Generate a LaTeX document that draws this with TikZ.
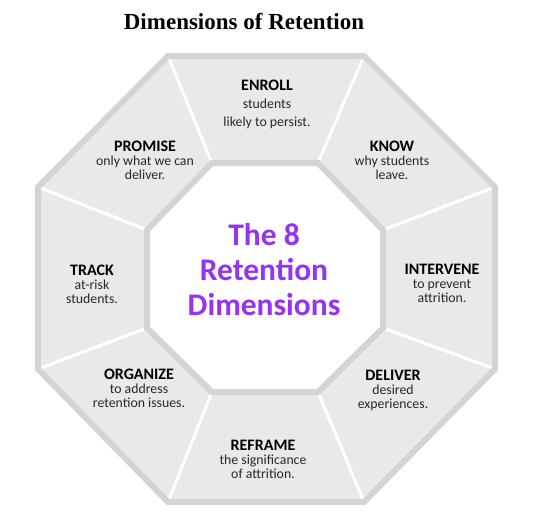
\documentclass[tikz,border=0pt]{standalone}
\usepackage{fontspec}
\setmainfont{Carlito}
\newfontfamily\titlefont{Liberation Serif}
\definecolor{segfill}{RGB}{233,233,233}
\definecolor{segborder}{RGB}{212,212,212}
\definecolor{centerpurple}{RGB}{150,50,240}
\definecolor{subtext}{RGB}{40,40,40}
\tikzset{
  lbl/.style={align=center, text=subtext, font=\fontsize{13.8}{14}\selectfont, inner sep=0pt},
  ttl/.style={font=\titlefont\bfseries\fontsize{23}{26}\selectfont, inner sep=0pt},
  ctr/.style={align=center, text=centerpurple, font=\bfseries\fontsize{31.5}{35}\selectfont, inner sep=0pt},
  divider/.style={white, line width=3pt},
  octborder/.style={draw=segborder, line width=6pt, line join=miter}
}
\newcommand{\hd}[1]{{\fontsize{16}{16}\selectfont\bfseries\color{black}#1}}
\begin{document}
\begin{tikzpicture}[x=1pt,y=-1pt]
\useasboundingbox (0,0) rectangle (537,522);
% outer vertices
\coordinate (o1) at (168,56);
\coordinate (o2) at (364,56);
\coordinate (o3) at (495,187);
\coordinate (o4) at (495,369);
\coordinate (o5) at (364,502);
\coordinate (o6) at (168,502);
\coordinate (o7) at (38,369);
\coordinate (o8) at (38,187);
% inner vertices
\coordinate (i1) at (212,163);
\coordinate (i2) at (318,163);
\coordinate (i3) at (383,230);
\coordinate (i4) at (383,328);
\coordinate (i5) at (318,392);
\coordinate (i6) at (212,392);
\coordinate (i7) at (147,328);
\coordinate (i8) at (147,230);
% outer octagon fill
\fill[segfill] (o1)--(o2)--(o3)--(o4)--(o5)--(o6)--(o7)--(o8)--cycle;
% dividers
\foreach \k in {1,...,8} {\draw[divider] (o\k) -- (i\k);}
% outer border
\draw[octborder] (o1)--(o2)--(o3)--(o4)--(o5)--(o6)--(o7)--(o8)--cycle;
% inner octagon
\filldraw[fill=white, octborder] (i1)--(i2)--(i3)--(i4)--(i5)--(i6)--(i7)--(i8)--cycle;
% title
\node[ttl] (title) at (244,22) {Dimensions of Retention};
% center text
\node[ctr] (center) at (264,270) {The 8\\Retention\\Dimensions};
% labels
\node[lbl] (enroll) at (267,104) {\hd{ENROLL}\\[4pt]students\\[4pt]likely to persist.};
\node[lbl] (know) at (392,160) {\hd{KNOW}\\why students\\leave.};
\node[lbl] (promise) at (145,160) {\hd{PROMISE}\\only what we can\\deliver.};
\node[lbl] (track) at (92,284) {\hd{TRACK}\\at-risk\\students.};
\node[lbl] (intervene) at (442,283) {\hd{INTERVENE}\\to prevent\\attrition.};
\node[lbl] (organize) at (139,388) {\hd{ORGANIZE}\\to address\\retention issues.};
\node[lbl] (deliver) at (393,390) {\hd{DELIVER}\\desired\\experiences.};
\node[lbl] (reframe) at (263,459) {\hd{REFRAME}\\the significance\\of attrition.};
\end{tikzpicture}
\end{document}
